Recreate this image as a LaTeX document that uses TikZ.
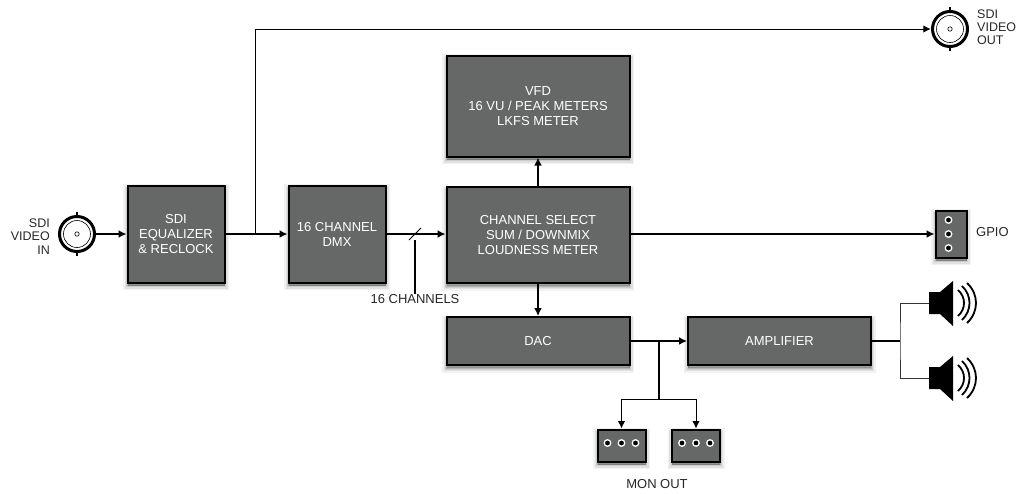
\documentclass[tikz,border=0pt]{standalone}
\usepackage{fontspec}
\setmainfont{Liberation Sans}
\usetikzlibrary{calc,arrows.meta}
\definecolor{boxgray}{HTML}{666868}
\tikzset{
  x=1pt,y=-1pt,
  softshadow/.style={
    preaction={draw=black,fill=black,opacity=.05,line width=9pt,transform canvas={yshift=-3pt}},
    preaction={draw=black,fill=black,opacity=.07,line width=6pt,transform canvas={yshift=-3pt}},
    preaction={draw=black,fill=black,opacity=.09,line width=3pt,transform canvas={yshift=-3pt}},
    preaction={draw=black,fill=black,opacity=.12,line width=1pt,transform canvas={yshift=-3pt}}},
  block/.style={softshadow,draw=black,line width=2pt,fill=boxgray,text=white,align=center,inner sep=0pt,font=\fontsize{13}{15}\selectfont},
  lab/.style={text=black!85,align=center,inner sep=0pt,font=\fontsize{13}{14}\selectfont},
  sdilab/.style={lab,font=\fontsize{12.5}{13.3}\selectfont},
  wire/.style={line width=1.6pt,-{Latex[length=8pt,width=8pt]}},
  thin wire/.style={line width=1pt,-{Latex[length=7.5pt,width=7.5pt]}},
  plainwire/.style={line width=1.6pt},
  pin/.style={circle,draw=white,fill=black,line width=1.3pt,minimum size=6.5pt,inner sep=0pt},
}
\newcommand{\bncshape}[1]{%
  \fill[white] (#1) circle (17.5);
  \draw[line width=3pt] (#1) circle (17.5);
  \draw[line width=0.6pt] (#1) circle (13.5);
  \draw[line width=0.6pt] (#1) circle (2.2);
  \draw[line width=1.6pt] ($(#1)+(0,-22)$) -- ($(#1)+(0,-17)$) ($(#1)+(0,17)$) -- ($(#1)+(0,22)$);
}
\newcommand{\speakershape}[1]{%
  \fill[black] ($(#1)+(0,-11)$) -- ($(#1)+(11,-11)$) -- ($(#1)+(24,-22)$) -- ($(#1)+(24,23)$) -- ($(#1)+(11,11)$) -- ($(#1)+(0,11)$) -- cycle;
  \foreach \xa/\xb/\h in {29/37/13,33/43/17,38/50/20}{
    \draw[line width=1.8pt] ($(#1)+(\xa,-\h)$) .. controls ($(#1)+(\xb,-\h*0.45)$) and ($(#1)+(\xb,\h*0.45)$) .. ($(#1)+(\xa,\h)$);
  }
}
\begin{document}
\begin{tikzpicture}
\useasboundingbox (0,0) rectangle (1018,493);
% nodes
\node[block,minimum width=97pt,minimum height=97pt] (eq) at (176,234) {SDI\\EQUALIZER\\\&~RECLOCK};
\node[block,minimum width=97pt,minimum height=97pt] (dmx) at (337,234) {16 CHANNEL\\DMX};
\node[block,minimum width=183pt,minimum height=101pt] (vfd) at (538,106) {VFD\\16 VU / PEAK METERS\\LKFS METER};
\node[block,minimum width=183pt,minimum height=96pt] (sel) at (538,235) {CHANNEL SELECT\\SUM / DOWNMIX\\LOUDNESS METER};
\node[block,minimum width=183pt,minimum height=48pt] (dac) at (538,341) {DAC};
\node[block,minimum width=183pt,minimum height=48pt] (amp) at (779.5,341) {AMPLIFIER};
\node[block,minimum width=31pt,minimum height=47pt] (gpio) at (951,234) {};
\node[block,minimum width=48pt,minimum height=32pt] (mon1) at (621.5,445.5) {};
\node[block,minimum width=48pt,minimum height=32pt] (mon2) at (696,445.5) {};
\foreach \d in {-14,0,14} {
  \node[pin] at ($(gpio)+(-2.5,\d)$) {};
  \node[pin] at ($(mon1)+(\d,-2.5)$) {};
  \node[pin] at ($(mon2)+(\d,-2.5)$) {};
}
\coordinate (bncin) at (77,234);
\coordinate (bncout) at (950,29);
\bncshape{bncin}
\bncshape{bncout}
\node[circle,minimum size=38pt,inner sep=0pt] (inport) at (bncin) {};
\node[circle,minimum size=38pt,inner sep=0pt] (outport) at (bncout) {};
\coordinate (spk1) at (929,303);
\coordinate (spk2) at (929,378);
\speakershape{spk1}
\speakershape{spk2}
% labels
\node[sdilab,align=right,anchor=east] (lin) at (50,236.5) {SDI\\VIDEO\\IN};
\node[sdilab,align=left,anchor=west] (lout) at (977,27) {SDI\\VIDEO\\OUT};
\node[lab,anchor=west] (lgpio) at (976,232) {GPIO};
\node[lab,anchor=center] (lmon) at (657,484) {MON OUT};
\node[lab,anchor=center] (lch) at (415,299) {16 CHANNELS};
% connectors
\draw[wire] (inport) -- (eq);
\draw[wire] (eq) -- (dmx);
\coordinate (tap) at (255,234);
\draw[thin wire] (tap) -- (255,29) -- (outport);
\draw[wire] (dmx) -- (sel.west |- dmx);
\coordinate (slash) at (415,234);
\draw[line width=0.8pt] ($(slash)+(-6,6)$) -- ($(slash)+(6,-6)$);
\draw[plainwire] (415,240) -- (lch.north);
\draw[wire] (sel) -- (vfd);
\draw[wire] (sel) -- (dac);
\draw[wire] (sel.east |- gpio) -- (gpio);
\draw[wire] (dac) -- (amp);
\coordinate (down) at (659,341);
\coordinate (split) at (659,399);
\draw[plainwire] (down) -- (split);
\draw[thin wire] (split) -| (mon1.north);
\draw[thin wire] (split) -| (mon2.north);
\coordinate (fork) at (900,341);
\draw[plainwire] (amp) -- (fork);
\draw[line width=1pt,black!80] (spk1) -| (fork) |- (spk2);
\end{tikzpicture}
\end{document}
